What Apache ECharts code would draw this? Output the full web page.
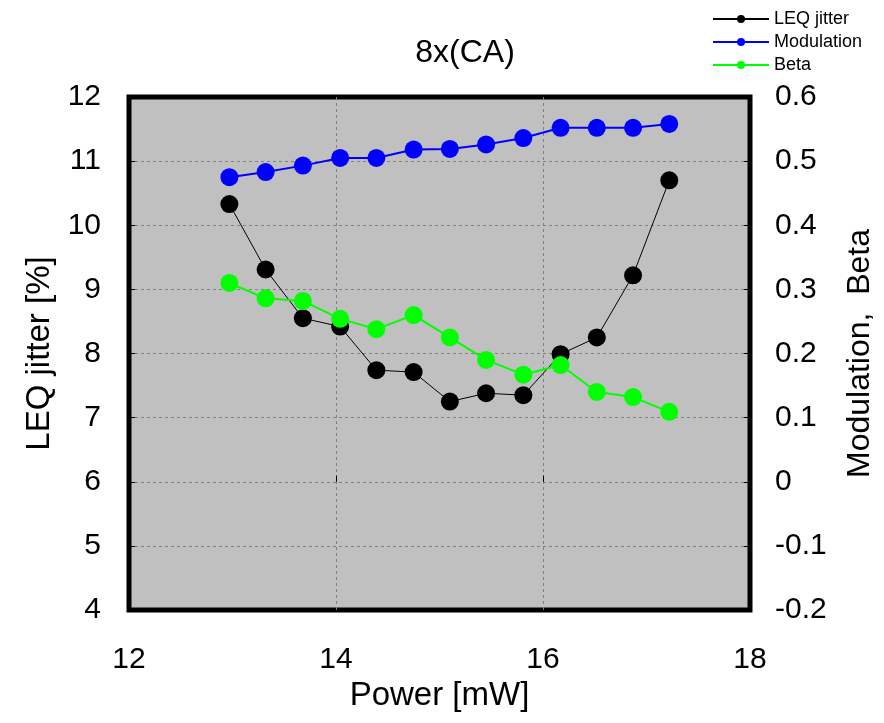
<!DOCTYPE html>
<html>
<head>
<meta charset="utf-8">
<script src="https://cdn.jsdelivr.net/npm/echarts@6/dist/echarts.min.js"></script>
<style>
  html, body { margin: 0; padding: 0; background: #fff; }
  #chart { width: 884px; height: 723px; }
</style>
</head>
<body>
<div id="chart"></div>
<script>
// power readings [mW]
var power = [12.97, 13.32, 13.68, 14.04, 14.39, 14.75, 15.10, 15.45, 15.81, 16.17, 16.52, 16.87, 17.22];
var leqJitter = [10.33, 9.31, 8.55, 8.42, 7.74, 7.71, 7.25, 7.38, 7.35, 7.99, 8.25, 9.22, 10.70];
var modulation = [0.475, 0.483, 0.493, 0.505, 0.505, 0.518, 0.519, 0.526, 0.536, 0.552, 0.552, 0.552, 0.558];
var beta = [0.310, 0.286, 0.282, 0.254, 0.238, 0.260, 0.225, 0.190, 0.167, 0.182, 0.140, 0.132, 0.109];

function pairs(xs, ys) {
  var out = [];
  for (var i = 0; i < xs.length; i++) { out.push([xs[i], ys[i]]); }
  return out;
}

var font = "Liberation Sans, Arial, sans-serif";
var gridLine = { show: true, showMinLine: false, showMaxLine: false,
                 lineStyle: { color: "#808080", type: [3, 3] } };
var tick = { show: true, inside: true, length: 6, lineStyle: { color: "#000" } };

var chart = echarts.init(document.getElementById("chart"));

chart.setOption({
  animation: false,
  backgroundColor: "#fff",
  textStyle: { fontFamily: font },
  title: {
    text: "8x(CA)",
    left: 460, top: 32, textAlign: "center",
    textStyle: { fontSize: 32, fontWeight: "normal", color: "#000", fontFamily: font }
  },
  legend: {
    orient: "vertical",
    left: 712, top: 10, padding: 0,
    itemWidth: 56, itemHeight: 10, itemGap: 5,
    textStyle: { fontSize: 18, color: "#000", fontFamily: font },
    data: ["LEQ jitter", "Modulation", "Beta"]
  },
  grid: {
    left: 129, right: 129, top: 97, bottom: 113,
    show: true, backgroundColor: "#c0c0c0",
    borderColor: "#000", borderWidth: 5
  },
  xAxis: {
    type: "value", min: 12, max: 18, interval: 2,
    name: "Power [mW]", nameLocation: "middle", nameGap: 66,
    nameTextStyle: { fontSize: 33, color: "#000", fontFamily: font },
    axisLine: { show: false },
    axisTick: tick,
    axisLabel: { fontSize: 30, color: "#000", margin: 35, fontFamily: font },
    splitLine: gridLine
  },
  yAxis: [
    {
      type: "value", min: 4, max: 12, interval: 1,
      name: "LEQ jitter [%]", nameLocation: "middle", nameGap: 67,
      nameTextStyle: { fontSize: 33, color: "#000", fontFamily: font },
      axisLine: { show: false },
      axisTick: tick,
      axisLabel: { fontSize: 30, color: "#000", margin: 28, fontFamily: font },
      splitLine: gridLine
    },
    {
      type: "value", min: -0.2, max: 0.6, interval: 0.1,
      name: "Modulation,  Beta", nameLocation: "middle", nameGap: 94, nameRotate: 90,
      nameTextStyle: { fontSize: 32, color: "#000", fontFamily: font },
      axisLine: { show: false },
      axisTick: tick,
      axisLabel: {
        fontSize: 30, color: "#000", margin: 25, fontFamily: font,
        formatter: function (v) { return String(+v.toFixed(1)); }
      },
      splitLine: { show: false }
    }
  ],
  series: [
    {
      name: "LEQ jitter", type: "line", yAxisIndex: 0,
      data: pairs(power, leqJitter),
      symbol: "circle", symbolSize: 18,
      itemStyle: { color: "#000" },
      lineStyle: { color: "#000", width: 1 }
    },
    {
      name: "Modulation", type: "line", yAxisIndex: 1,
      data: pairs(power, modulation),
      symbol: "circle", symbolSize: 18,
      itemStyle: { color: "#0000ff" },
      lineStyle: { color: "#0000ff", width: 2 }
    },
    {
      name: "Beta", type: "line", yAxisIndex: 1,
      data: pairs(power, beta),
      symbol: "circle", symbolSize: 18,
      itemStyle: { color: "#00ff00" },
      lineStyle: { color: "#00ff00", width: 2 }
    }
  ]
});
</script>
</body>
</html>
